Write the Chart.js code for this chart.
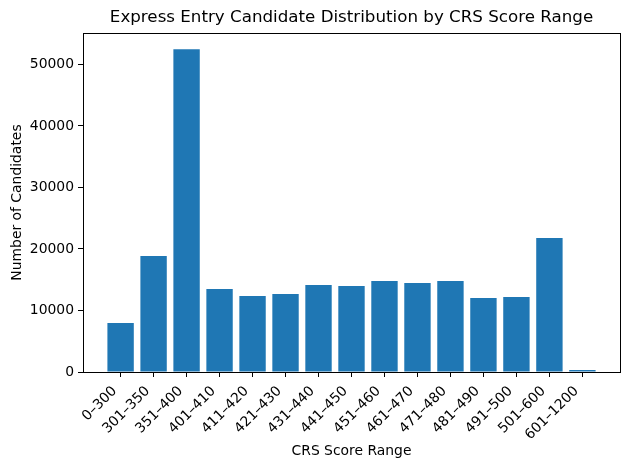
<!DOCTYPE html>
<html>
<head>
<meta charset="utf-8">
<script src="https://cdn.jsdelivr.net/npm/chart.js@4.4.1/dist/chart.umd.min.js"></script>
<style>
  html, body { margin: 0; padding: 0; background: #fff; }
  #wrap { width: 630px; height: 470px; }
</style>
</head>
<body>
<div id="wrap"><canvas id="crs-chart" width="630" height="470"></canvas></div>
<script>
const scoreRanges = ['0–300', '301–350', '351–400', '401–410', '411–420', '421–430', '431–440',
  '441–450', '451–460', '461–470', '471–480', '481–490', '491–500', '501–600', '601–1200'];
const candidates = [7960, 18850, 52490, 13490, 12350, 12670, 14140,
  13970, 14790, 14460, 14790, 12020, 12190, 21770, 330];
const yTicks = [0, 10000, 20000, 30000, 40000, 50000];

const font = 'DejaVu Sans';
const barBlue = '#1f77b4';

// matplotlib style frame round the plot area, title centred over the axes
const frame = {
  id: 'frame',
  afterLayout(chart) {
    const t = chart.titleBlock, a = chart.chartArea;
    if (t) { t.left = a.left; t.right = a.right; }
  },
  afterDraw(chart) {
    const { ctx, chartArea: a } = chart;
    ctx.save();
    ctx.strokeStyle = '#000';
    ctx.lineWidth = 1;
    ctx.strokeRect(Math.round(a.left) + 0.5, Math.round(a.top) + 0.5,
      Math.round(a.right - a.left), Math.round(a.bottom - a.top));
    ctx.restore();
  }
};

const yMax = Math.max(...candidates) * 1.05;

new Chart(document.getElementById('crs-chart'), {
  type: 'bar',
  data: {
    datasets: [{
      label: 'Candidates',
      data: candidates.map((v, i) => ({ x: i, y: v })),
      backgroundColor: barBlue,
      borderWidth: 0,
      barPercentage: 0.8,
      categoryPercentage: 1.0
    }]
  },
  plugins: [frame],
  options: {
    responsive: false,
    animation: false,
    layout: { padding: { left: 0, right: 10, top: 0, bottom: 0 } },
    plugins: {
      legend: { display: false },
      tooltip: { enabled: false },
      title: {
        display: true,
        text: 'Express Entry Candidate Distribution by CRS Score Range',
        color: '#000',
        font: { family: font, size: 16.7, weight: 'normal' },
        padding: { top: 8, bottom: 5 }
      }
    },
    scales: {
      x: {
        type: 'linear',
        min: -1.14,
        max: scoreRanges.length - 1 + 1.14,
        offset: false,
        afterBuildTicks: (s) => { s.ticks = scoreRanges.map((_, i) => ({ value: i })); },
        afterFit: (s) => { s.height = 98; },
        ticks: {
          autoSkip: false,
          minRotation: 45,
          maxRotation: 45,
          padding: 6,
          labelOffset: -6,
          color: '#000',
          font: { family: font, size: 13.9 },
          callback: (v) => scoreRanges[v]
        },
        grid: { offset: false, drawOnChartArea: false, drawTicks: true, tickLength: 5, color: '#000' },
        border: { display: true, color: '#000' },
        title: {
          display: true,
          text: 'CRS Score Range',
          color: '#000',
          font: { family: font, size: 13.9 },
          padding: { top: 0, bottom: 10 }
        }
      },
      y: {
        min: 0,
        max: yMax,
        afterBuildTicks: (s) => { s.ticks = yTicks.map(v => ({ value: v })); },
        afterFit: (s) => { s.width = 83; },
        ticks: {
          padding: 4,
          color: '#000',
          font: { family: font, size: 13.9 },
          callback: (v) => String(v)
        },
        grid: { drawOnChartArea: false, drawTicks: true, tickLength: 5, color: '#000' },
        border: { display: true, color: '#000' },
        title: {
          display: true,
          text: 'Number of Candidates',
          color: '#000',
          font: { family: font, size: 13.9 },
          padding: { top: 9, bottom: 0 }
        }
      }
    }
  }
});
</script>
</body>
</html>
